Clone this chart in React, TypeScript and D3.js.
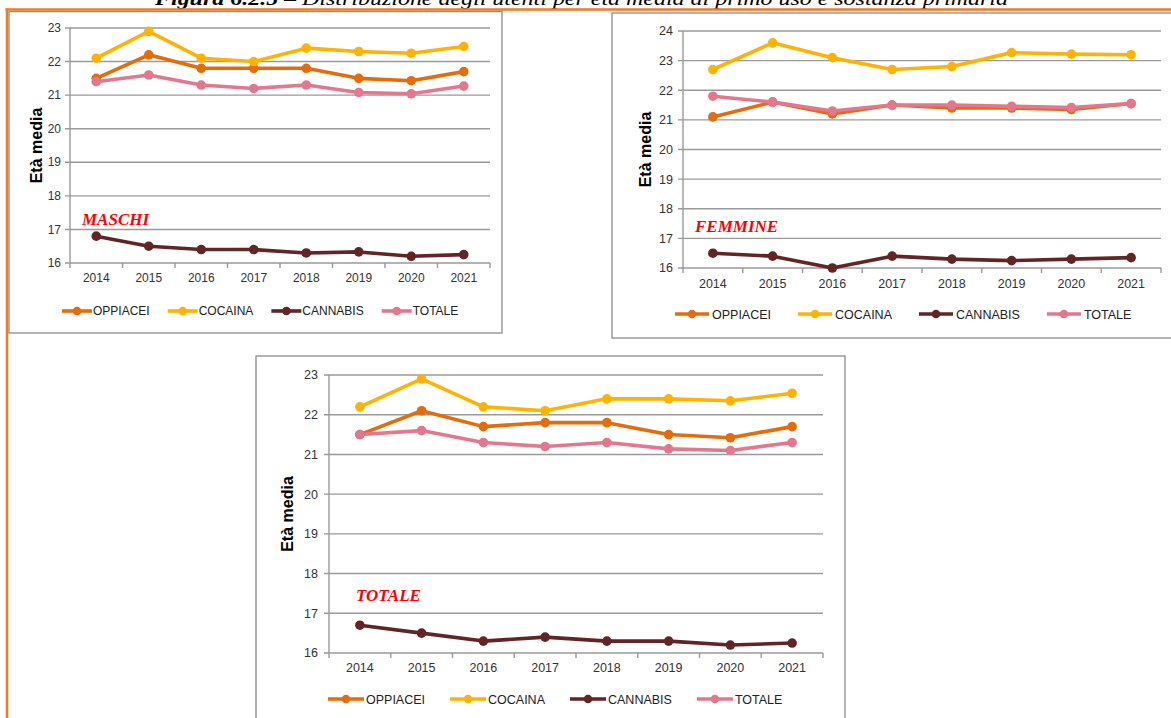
import React from "react";
import * as d3 from "d3";

const years = ["2014", "2015", "2016", "2017", "2018", "2019", "2020", "2021"];
const seriesNames = ["OPPIACEI", "COCAINA", "CANNABIS", "TOTALE"];
const seriesColors = ["#E46C0A", "#FFB300", "#632523", "#E3778E"];

const maschiOppiacei = [21.5, 22.2, 21.8, 21.8, 21.8, 21.5, 21.43, 21.7];
const maschiCocaina = [22.1, 22.9, 22.1, 22.0, 22.4, 22.3, 22.25, 22.45];
const maschiCannabis = [16.8, 16.5, 16.4, 16.4, 16.3, 16.33, 16.2, 16.25];
const maschiTotale = [21.4, 21.6, 21.3, 21.2, 21.3, 21.08, 21.04, 21.27];

const femmineOppiacei = [21.1, 21.6, 21.2, 21.5, 21.4, 21.4, 21.35, 21.55];
const femmineCocaina = [22.7, 23.6, 23.1, 22.7, 22.8, 23.27, 23.22, 23.2];
const femmineCannabis = [16.5, 16.4, 16.0, 16.4, 16.3, 16.25, 16.3, 16.35];
const femmineTotale = [21.8, 21.6, 21.3, 21.5, 21.5, 21.46, 21.42, 21.55];

const totaleOppiacei = [21.5, 22.1, 21.7, 21.8, 21.8, 21.5, 21.42, 21.7];
const totaleCocaina = [22.2, 22.9, 22.2, 22.1, 22.4, 22.4, 22.35, 22.54];
const totaleCannabis = [16.7, 16.5, 16.3, 16.4, 16.3, 16.3, 16.2, 16.25];
const totaleTotale = [21.5, 21.6, 21.3, 21.2, 21.3, 21.14, 21.1, 21.3];

const ticks16to23 = [16, 17, 18, 19, 20, 21, 22, 23];
const ticks16to24 = [16, 17, 18, 19, 20, 21, 22, 23, 24];

const titleBold = "Figura 6.2.5";
const titleRest = " – Distribuzione degli utenti per età media al primo uso e sostanza primaria";
const yTitle = "Età media";

const FONT = "'Liberation Sans', Arial, sans-serif";
const SERIF = "'Liberation Serif', 'DejaVu Serif', serif";

let measureCtx: CanvasRenderingContext2D | null = null;
function textWidth(s: string, size: number): number {
  if (!measureCtx && typeof document !== "undefined") {
    const c = document.createElement("canvas");
    measureCtx = c.getContext("2d");
  }
  if (measureCtx) {
    measureCtx.font = `${size}px ${FONT}`;
    return measureCtx.measureText(s).width;
  }
  return s.length * size * 0.62;
}

type Cfg = {
  series: number[][];
  ticks: number[];
  left: number;
  right: number;
  top: number;
  bottom: number;
  frame: { x: number; y: number; w: number; h: number };
  font: number;
  yLabelRight: number;
  xLabelY: number;
  yTitleX: number;
  label: string;
  labelX: number;
  labelY: number;
  legend: { x: number; y: number; lineLen: number; textOff: number; gap: number };
};

function Chart({ cfg }: { cfg: Cfg }) {
  const x = d3.scaleBand<string>().domain(years).range([cfg.left, cfg.right]).padding(0);
  const y = d3
    .scaleLinear()
    .domain([cfg.ticks[0], cfg.ticks[cfg.ticks.length - 1]])
    .range([cfg.bottom, cfg.top]);
  const cx = (i: number) => (x(years[i]) as number) + x.bandwidth() / 2;
  const line = d3
    .line<number>()
    .x((_, i) => cx(i))
    .y((d) => y(d));

  const legendItems: { name: string; color: string; lx: number }[] = [];
  let lx = cfg.legend.x;
  seriesNames.forEach((n, i) => {
    legendItems.push({ name: n, color: seriesColors[i], lx });
    lx += cfg.legend.textOff + textWidth(n, cfg.font) + cfg.legend.gap;
  });

  const boundaries = d3.range(years.length + 1).map((i) => cfg.left + i * x.bandwidth());
  const midY = (cfg.top + cfg.bottom) / 2;

  return (
    <g>
      <rect
        x={cfg.frame.x}
        y={cfg.frame.y}
        width={cfg.frame.w}
        height={cfg.frame.h}
        fill="#fff"
        stroke="#8C8C8C"
        strokeWidth={1.3}
      />
      {cfg.ticks.map((t) => (
        <g key={t}>
          <line x1={cfg.left - 5} x2={cfg.right} y1={y(t)} y2={y(t)} stroke="#9A9A9A" strokeWidth={1.4} />
          <text
            x={cfg.yLabelRight}
            y={y(t)}
            dy="0.35em"
            textAnchor="end"
            fontFamily={FONT}
            fontSize={cfg.font}
            fill="#333"
          >
            {t}
          </text>
        </g>
      ))}
      <line x1={cfg.left} x2={cfg.left} y1={cfg.top} y2={cfg.bottom} stroke="#9A9A9A" strokeWidth={1.4} />
      {boundaries.map((bx, i) => (
        <line key={i} x1={bx} x2={bx} y1={cfg.bottom} y2={cfg.bottom + 5} stroke="#9A9A9A" strokeWidth={1.4} />
      ))}
      {years.map((yr, i) => (
        <text
          key={yr}
          x={cx(i)}
          y={cfg.xLabelY}
          textAnchor="middle"
          fontFamily={FONT}
          fontSize={cfg.font}
          fill="#333"
        >
          {yr}
        </text>
      ))}
      <text
        transform={`translate(${cfg.yTitleX},${midY}) rotate(-90)`}
        textAnchor="middle"
        dy="0.35em"
        fontFamily={FONT}
        fontWeight="bold"
        fontSize={16}
        fill="#000"
      >
        {yTitle}
      </text>
      {cfg.series.map((vals, si) => (
        <g key={si}>
          <path d={line(vals) || ""} fill="none" stroke={seriesColors[si]} strokeWidth={3.6} strokeLinejoin="round" />
          {vals.map((v, i) => (
            <circle key={i} cx={cx(i)} cy={y(v)} r={4.8} fill={seriesColors[si]} />
          ))}
        </g>
      ))}
      <text
        x={cfg.labelX}
        y={cfg.labelY}
        fontFamily={SERIF}
        fontWeight="bold"
        fontStyle="italic"
        fontSize={17}
        fill="#FF0000"
      >
        {cfg.label}
      </text>
      {legendItems.map((it) => (
        <g key={it.name}>
          <line
            x1={it.lx}
            x2={it.lx + cfg.legend.lineLen}
            y1={cfg.legend.y}
            y2={cfg.legend.y}
            stroke={it.color}
            strokeWidth={3.6}
          />
          <circle cx={it.lx + cfg.legend.lineLen / 2} cy={cfg.legend.y} r={4.3} fill={it.color} />
          <text
            x={it.lx + cfg.legend.textOff}
            y={cfg.legend.y}
            dy="0.36em"
            fontFamily={FONT}
            fontSize={cfg.font}
            fill="#222"
          >
            {it.name}
          </text>
        </g>
      ))}
    </g>
  );
}

const maschiCfg: Cfg = {
  series: [maschiOppiacei, maschiCocaina, maschiCannabis, maschiTotale],
  ticks: ticks16to23,
  left: 70,
  right: 490,
  top: 28,
  bottom: 263,
  frame: { x: 9, y: 11.5, w: 493, h: 321.5 },
  font: 12,
  yLabelRight: 61,
  xLabelY: 282,
  yTitleX: 36,
  label: "MASCHI",
  labelX: 82,
  labelY: 225,
  legend: { x: 62, y: 311, lineLen: 30, textOff: 31, gap: 18 },
};

const femmineCfg: Cfg = {
  series: [femmineOppiacei, femmineCocaina, femmineCannabis, femmineTotale],
  ticks: ticks16to24,
  left: 683,
  right: 1161,
  top: 31,
  bottom: 268,
  frame: { x: 612, y: 13, w: 580, h: 325 },
  font: 12.5,
  yLabelRight: 673,
  xLabelY: 288,
  yTitleX: 645,
  label: "FEMMINE",
  labelX: 695,
  labelY: 232,
  legend: { x: 675, y: 314, lineLen: 34, textOff: 37, gap: 27 },
};

const totaleCfg: Cfg = {
  series: [totaleOppiacei, totaleCocaina, totaleCannabis, totaleTotale],
  ticks: ticks16to23,
  left: 329,
  right: 823,
  top: 375,
  bottom: 653,
  frame: { x: 256, y: 356, w: 589, h: 400 },
  font: 12.5,
  yLabelRight: 318,
  xLabelY: 672,
  yTitleX: 287,
  label: "TOTALE",
  labelX: 356,
  labelY: 601,
  legend: { x: 328, y: 699, lineLen: 36, textOff: 38, gap: 25 },
};

export default function App() {
  return (
    <div style={{ position: "absolute", left: 0, top: 0, width: 1171, height: 718, background: "#fff" }}>
      <svg width={1171} height={718} style={{ display: "block" }}>
        <rect x={0} y={0} width={1171} height={718} fill="#fff" />
        <text
          x={155}
          y={5}
          fontFamily={SERIF}
          fontStyle="italic"
          fontSize={19}
          fill="#000"
          textLength={853}
          lengthAdjust="spacingAndGlyphs"
        >
          <tspan fontWeight="bold">{titleBold}</tspan>
          {titleRest}
        </text>
        <Chart cfg={maschiCfg} />
        <Chart cfg={femmineCfg} />
        <Chart cfg={totaleCfg} />
        <line x1={5.5} x2={1171} y1={9.5} y2={9.5} stroke="#F27A22" strokeWidth={2.5} />
        <line x1={7} x2={7} y1={8.5} y2={718} stroke="#F27A22" strokeWidth={2.5} />
      </svg>
    </div>
  );
}
